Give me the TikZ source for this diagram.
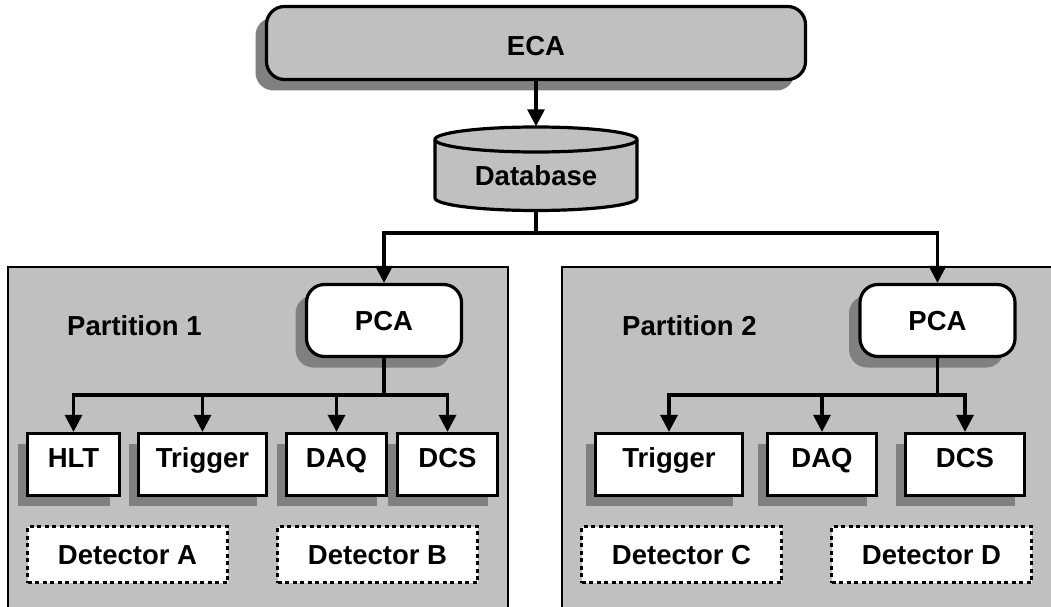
\documentclass[tikz,border=0pt]{standalone}
\usepackage{fontspec}
\setmainfont{Liberation Sans}
\usetikzlibrary{arrows.meta,shadows}
\definecolor{boxgray}{RGB}{192,192,192}
\definecolor{shadowgray}{RGB}{128,128,128}
\begin{document}
\begin{tikzpicture}[x=1pt,y=-1pt,
  every node/.style={font=\fontsize{27.5}{30}\selectfont\bfseries, inner sep=0pt},
  caps/.style={text height=19.5pt, text depth=0pt},
  sh/.style={drop shadow={shadow xshift=-#1, shadow yshift=-#1, fill=shadowgray, opacity=1}},
  ctrl/.style={draw, line width=3.2pt, rounded corners=18pt, sh=11pt},
  sub/.style={draw, line width=3.2pt, fill=white, minimum height=62pt, text height=19.5pt, text depth=13pt, sh=10pt},
  det/.style={draw, line width=3.2pt, dash pattern=on 4pt off 3.5pt, fill=white, minimum height=56pt, minimum width=200pt, caps},
  part/.style={draw, line width=1.5pt, fill=boxgray},
  conn/.style={line width=3.2pt},
  arr/.style={line width=3.2pt, -{Triangle[length=17pt,width=17pt]}}
]
\useasboundingbox (0,0) rectangle (1051,607);
\fill[white] (0,0) rectangle (1051,607);

% partitions
\draw[part] (8,267) rectangle (508,625);
\draw[part] (562,267) rectangle (1065,625);

% ECA
\node[ctrl, fill=boxgray, minimum width=539pt, minimum height=73pt, text height=25.5pt, text depth=0pt] (eca) at (536,43) {ECA};

% Database cylinder
\node[minimum width=205pt, minimum height=84pt] (db) at (536,168.5) {};
\filldraw[fill=boxgray, line width=3.2pt] (435,139.5) -- (435,198)
  arc[start angle=180, end angle=360, x radius=101pt, y radius=12.5pt]
  -- (637,139.5)
  arc[start angle=0, end angle=180, x radius=101pt, y radius=12.5pt] -- cycle;
\draw[line width=3.2pt] (435,139.5) arc[start angle=180, end angle=360, x radius=101pt, y radius=12.5pt];
\node[minimum width=205pt, minimum height=84pt, text height=34.5pt, text depth=0pt] (dblabel) at (536,168.5) {Database};

% PCAs
\node[ctrl, fill=white, minimum width=155pt, minimum height=72pt, caps] (pca1) at (384,320.5) {PCA};
\node[ctrl, fill=white, minimum width=155pt, minimum height=72pt, caps] (pca2) at (937.5,320.5) {PCA};

% partition labels
\node[caps, anchor=west] (p1) at (67,326) {Partition 1};
\node[caps, anchor=west] (p2) at (622,326) {Partition 2};

% partition 1 subsystems
\node[sub, minimum width=92pt] (hlt1) at (73.5,464.5) {HLT};
\node[sub, minimum width=128pt] (trg1) at (202.5,464.5) {Trigger};
\node[sub, minimum width=100pt] (daq1) at (336.5,464.5) {DAQ};
\node[sub, minimum width=100pt] (dcs1) at (447.5,464.5) {DCS};

% partition 2 subsystems
\node[sub, minimum width=147pt] (trg2) at (669,464.5) {Trigger};
\node[sub, minimum width=109pt] (daq2) at (822,464.5) {DAQ};
\node[sub, minimum width=119pt] (dcs2) at (965,464.5) {DCS};

% detectors
\node[det] (detA) at (127.5,554.5) {Detector A};
\node[det] (detB) at (377.5,554.5) {Detector B};
\node[det] (detC) at (681.5,554.5) {Detector C};
\node[det] (detD) at (931.5,554.5) {Detector D};

% connectors
\draw[arr] (eca.south) -- (db.north);
\coordinate (j0) at (536,233);
\draw[conn] (db.south) -- (j0);
\draw[arr] (j0) -| (pca1.north);
\draw[arr] (j0) -| (pca2.north);

\coordinate (b1) at (384,395);
\draw[conn] (pca1.south) -- (b1);
\draw[arr] (b1) -| (hlt1.north);
\draw[arr] (b1) -| (trg1.north);
\draw[arr] (b1) -| (daq1.north);
\draw[arr] (b1) -| (dcs1.north);

\coordinate (b2) at (937.5,395);
\draw[conn] (pca2.south) -- (b2);
\draw[arr] (b2) -| (trg2.north);
\draw[arr] (b2) -| (daq2.north);
\draw[arr] (b2) -| (dcs2.north);
\end{tikzpicture}
\end{document}
